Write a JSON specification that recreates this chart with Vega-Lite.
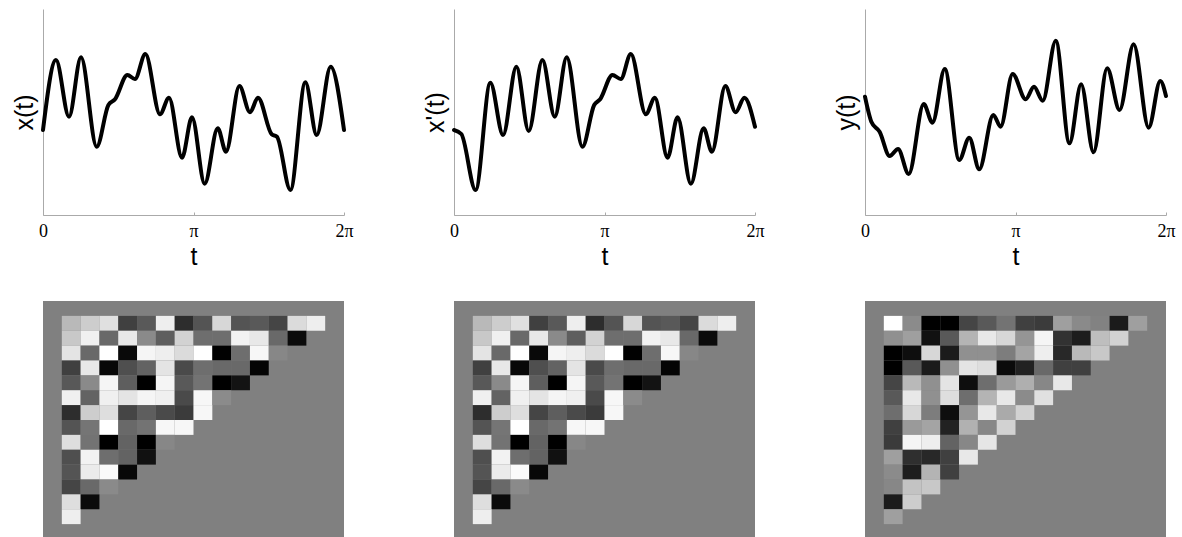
{
  "$schema": "https://vega.github.io/schema/vega-lite/v6.json",
  "padding": {"left": 12, "top": 9, "right": 0, "bottom": 0},
  "background": "white",
  "bounds": "flush",
  "columns": 3,
  "spacing": {"row": 86, "column": 110},
  "config": {
    "view": {"stroke": null},
    "axis": {"grid": false, "domainColor": "#aaaaaa", "domainWidth": 1, "tickColor": "#aaaaaa", "titleFont": "Liberation Sans", "titleFontWeight": "normal", "titleColor": "black", "labelColor": "black"}
  },
  "datasets": {
    "x": [
      {"t": 0, "v": 85}, {"t": 0.271, "v": 155}, {"t": 0.543, "v": 98.3}, {"t": 0.793, "v": 157.7}, {"t": 1.121, "v": 68.3},
      {"t": 1.365, "v": 110}, {"t": 1.503, "v": 115.7}, {"t": 1.762, "v": 140}, {"t": 1.92, "v": 136}, {"t": 2.137, "v": 161},
      {"t": 2.442, "v": 100.7}, {"t": 2.63, "v": 117.3}, {"t": 2.902, "v": 57.3}, {"t": 3.11, "v": 97.7}, {"t": 3.375, "v": 31.3},
      {"t": 3.647, "v": 86.7}, {"t": 3.82, "v": 63.3}, {"t": 4.1, "v": 129}, {"t": 4.321, "v": 102.7}, {"t": 4.488, "v": 117.3},
      {"t": 4.774, "v": 80.7}, {"t": 4.884, "v": 78.3}, {"t": 5.164, "v": 25}, {"t": 5.477, "v": 132.7}, {"t": 5.713, "v": 80},
      {"t": 6.005, "v": 148.3}, {"t": 6.2832, "v": 85}
    ],
    "xp": [
      {"t": 0, "v": 85}, {"t": 0.153, "v": 81}, {"t": 0.451, "v": 25}, {"t": 0.759, "v": 132.3}, {"t": 1.024, "v": 80},
      {"t": 1.302, "v": 148.3}, {"t": 1.559, "v": 84}, {"t": 1.845, "v": 155}, {"t": 2.103, "v": 98.3}, {"t": 2.353, "v": 157.7},
      {"t": 2.681, "v": 68.3}, {"t": 2.926, "v": 110}, {"t": 3.051, "v": 115.7}, {"t": 3.308, "v": 140}, {"t": 3.482, "v": 136},
      {"t": 3.691, "v": 161}, {"t": 4.004, "v": 100.7}, {"t": 4.193, "v": 117.3}, {"t": 4.458, "v": 57.3}, {"t": 4.667, "v": 97.7},
      {"t": 4.945, "v": 31.3}, {"t": 5.21, "v": 86.7}, {"t": 5.384, "v": 63.3}, {"t": 5.664, "v": 129}, {"t": 5.879, "v": 102.7},
      {"t": 6.061, "v": 117.3}, {"t": 6.2832, "v": 88.3}
    ],
    "y": [
      {"t": 0, "v": 118.3}, {"t": 0.132, "v": 93.3}, {"t": 0.305, "v": 83.3}, {"t": 0.515, "v": 59}, {"t": 0.69, "v": 66},
      {"t": 0.912, "v": 41}, {"t": 1.226, "v": 111}, {"t": 1.408, "v": 92.3}, {"t": 1.665, "v": 146}, {"t": 1.967, "v": 55},
      {"t": 2.176, "v": 77.3}, {"t": 2.385, "v": 45.7}, {"t": 2.678, "v": 100}, {"t": 2.831, "v": 88.3}, {"t": 3.082, "v": 141},
      {"t": 3.354, "v": 115.7}, {"t": 3.528, "v": 128.3}, {"t": 3.71, "v": 114.3}, {"t": 3.982, "v": 174.3}, {"t": 4.268, "v": 71.7},
      {"t": 4.511, "v": 130.7}, {"t": 4.77, "v": 62.7}, {"t": 5.055, "v": 146.7}, {"t": 5.314, "v": 105}, {"t": 5.607, "v": 170.7},
      {"t": 5.921, "v": 87.3}, {"t": 6.164, "v": 134}, {"t": 6.2832, "v": 119}
    ],
    "Sx": [
      {"r":1,"c":1,"v":0.45},{"r":1,"c":2,"v":0.61},{"r":1,"c":3,"v":0.76},{"r":1,"c":4,"v":-0.5},{"r":1,"c":5,"v":-0.3},{"r":1,"c":6,"v":0.87},{"r":1,"c":7,"v":-0.65},{"r":1,"c":8,"v":-0.34},{"r":1,"c":9,"v":0.69},{"r":1,"c":10,"v":-0.34},{"r":1,"c":11,"v":-0.3},{"r":1,"c":12,"v":-0.46},{"r":1,"c":13,"v":0.72},{"r":1,"c":14,"v":0.87},
      {"r":2,"c":1,"v":0.57},{"r":2,"c":2,"v":0.88},{"r":2,"c":3,"v":-0.18},{"r":2,"c":4,"v":0.82},{"r":2,"c":5,"v":0.08},{"r":2,"c":6,"v":-0.26},{"r":2,"c":7,"v":0.65},{"r":2,"c":8,"v":-0.14},{"r":2,"c":9,"v":-0.14},{"r":2,"c":10,"v":0.9},{"r":2,"c":11,"v":0.82},{"r":2,"c":12,"v":-0.18},{"r":2,"c":13,"v":-0.91},
      {"r":3,"c":1,"v":0.79},{"r":3,"c":2,"v":-0.18},{"r":3,"c":3,"v":1.0},{"r":3,"c":4,"v":-0.93},{"r":3,"c":5,"v":0.92},{"r":3,"c":6,"v":0.87},{"r":3,"c":7,"v":0.72},{"r":3,"c":8,"v":1.0},{"r":3,"c":9,"v":-0.99},{"r":3,"c":10,"v":-0.14},{"r":3,"c":11,"v":0.94},{"r":3,"c":12,"v":0.06},
      {"r":4,"c":1,"v":-0.5},{"r":4,"c":2,"v":0.82},{"r":4,"c":3,"v":-0.94},{"r":4,"c":4,"v":-0.38},{"r":4,"c":5,"v":-0.22},{"r":4,"c":6,"v":0.79},{"r":4,"c":7,"v":-0.42},{"r":4,"c":8,"v":-0.14},{"r":4,"c":9,"v":-0.18},{"r":4,"c":10,"v":-0.18},{"r":4,"c":11,"v":-0.97},
      {"r":5,"c":1,"v":-0.31},{"r":5,"c":2,"v":0.08},{"r":5,"c":3,"v":0.92},{"r":5,"c":4,"v":-0.26},{"r":5,"c":5,"v":-1.0},{"r":5,"c":6,"v":0.92},{"r":5,"c":7,"v":-0.3},{"r":5,"c":8,"v":-0.1},{"r":5,"c":9,"v":-1.0},{"r":5,"c":10,"v":-0.85},
      {"r":6,"c":1,"v":0.88},{"r":6,"c":2,"v":-0.22},{"r":6,"c":3,"v":0.88},{"r":6,"c":4,"v":0.79},{"r":6,"c":5,"v":0.92},{"r":6,"c":6,"v":0.88},{"r":6,"c":7,"v":-0.42},{"r":6,"c":8,"v":0.94},{"r":6,"c":9,"v":0.09},
      {"r":7,"c":1,"v":-0.65},{"r":7,"c":2,"v":0.61},{"r":7,"c":3,"v":0.74},{"r":7,"c":4,"v":-0.46},{"r":7,"c":5,"v":-0.26},{"r":7,"c":6,"v":-0.42},{"r":7,"c":7,"v":-0.54},{"r":7,"c":8,"v":0.94},
      {"r":8,"c":1,"v":-0.34},{"r":8,"c":2,"v":-0.08},{"r":8,"c":3,"v":1.0},{"r":8,"c":4,"v":-0.18},{"r":8,"c":5,"v":-0.1},{"r":8,"c":6,"v":0.94},{"r":8,"c":7,"v":0.94},
      {"r":9,"c":1,"v":0.74},{"r":9,"c":2,"v":-0.1},{"r":9,"c":3,"v":-1.0},{"r":9,"c":4,"v":-0.22},{"r":9,"c":5,"v":-1.0},{"r":9,"c":6,"v":0.06},
      {"r":10,"c":1,"v":-0.38},{"r":10,"c":2,"v":0.9},{"r":10,"c":3,"v":-0.14},{"r":10,"c":4,"v":-0.22},{"r":10,"c":5,"v":-0.87},
      {"r":11,"c":1,"v":-0.34},{"r":11,"c":2,"v":0.84},{"r":11,"c":3,"v":0.96},{"r":11,"c":4,"v":-0.94},
      {"r":12,"c":1,"v":-0.46},{"r":12,"c":2,"v":-0.18},{"r":12,"c":3,"v":0.08},
      {"r":13,"c":1,"v":0.74},{"r":13,"c":2,"v":-0.91},
      {"r":14,"c":1,"v":0.87}
    ],
    "Sy": [
      {"r":1,"c":1,"v":1.0},{"r":1,"c":2,"v":0.09},{"r":1,"c":3,"v":-1.0},{"r":1,"c":4,"v":-1.0},{"r":1,"c":5,"v":-0.46},{"r":1,"c":6,"v":-0.3},{"r":1,"c":7,"v":-0.1},{"r":1,"c":8,"v":-0.5},{"r":1,"c":9,"v":-0.54},{"r":1,"c":10,"v":0.25},{"r":1,"c":11,"v":0.08},{"r":1,"c":12,"v":0.02},{"r":1,"c":13,"v":-0.79},{"r":1,"c":14,"v":0.25},
      {"r":2,"c":1,"v":0.13},{"r":2,"c":2,"v":0.25},{"r":2,"c":3,"v":-0.87},{"r":2,"c":4,"v":-0.3},{"r":2,"c":5,"v":0.41},{"r":2,"c":6,"v":0.82},{"r":2,"c":7,"v":0.69},{"r":2,"c":8,"v":0.17},{"r":2,"c":9,"v":0.92},{"r":2,"c":10,"v":-0.61},{"r":2,"c":11,"v":-0.77},{"r":2,"c":12,"v":0.49},{"r":2,"c":13,"v":0.65},
      {"r":3,"c":1,"v":-1.0},{"r":3,"c":2,"v":-0.89},{"r":3,"c":3,"v":0.69},{"r":3,"c":4,"v":-0.79},{"r":3,"c":5,"v":0.13},{"r":3,"c":6,"v":0.13},{"r":3,"c":7,"v":-0.02},{"r":3,"c":8,"v":0.29},{"r":3,"c":9,"v":0.87},{"r":3,"c":10,"v":-0.69},{"r":3,"c":11,"v":0.45},{"r":3,"c":12,"v":0.57},
      {"r":4,"c":1,"v":-1.0},{"r":4,"c":2,"v":-0.3},{"r":4,"c":3,"v":-0.79},{"r":4,"c":4,"v":0.13},{"r":4,"c":5,"v":0.79},{"r":4,"c":6,"v":0.74},{"r":4,"c":7,"v":-0.91},{"r":4,"c":8,"v":-0.73},{"r":4,"c":9,"v":-0.18},{"r":4,"c":10,"v":-0.5},{"r":4,"c":11,"v":-0.5},
      {"r":5,"c":1,"v":-0.46},{"r":5,"c":2,"v":0.45},{"r":5,"c":3,"v":0.13},{"r":5,"c":4,"v":0.79},{"r":5,"c":5,"v":-0.89},{"r":5,"c":6,"v":-0.14},{"r":5,"c":7,"v":0.21},{"r":5,"c":8,"v":0.37},{"r":5,"c":9,"v":0.06},{"r":5,"c":10,"v":0.82},
      {"r":6,"c":1,"v":-0.3},{"r":6,"c":2,"v":0.82},{"r":6,"c":3,"v":0.13},{"r":6,"c":4,"v":0.74},{"r":6,"c":5,"v":-0.14},{"r":6,"c":6,"v":0.41},{"r":6,"c":7,"v":0.82},{"r":6,"c":8,"v":0.09},{"r":6,"c":9,"v":0.76},
      {"r":7,"c":1,"v":-0.14},{"r":7,"c":2,"v":0.69},{"r":7,"c":3,"v":-0.02},{"r":7,"c":4,"v":-0.89},{"r":7,"c":5,"v":0.17},{"r":7,"c":6,"v":0.82},{"r":7,"c":7,"v":0.33},{"r":7,"c":8,"v":0.65},
      {"r":8,"c":1,"v":-0.5},{"r":8,"c":2,"v":0.21},{"r":8,"c":3,"v":0.29},{"r":8,"c":4,"v":-0.73},{"r":8,"c":5,"v":0.39},{"r":8,"c":6,"v":0.06},{"r":8,"c":7,"v":0.65},
      {"r":9,"c":1,"v":-0.54},{"r":9,"c":2,"v":0.92},{"r":9,"c":3,"v":0.87},{"r":9,"c":4,"v":-0.22},{"r":9,"c":5,"v":0.06},{"r":9,"c":6,"v":0.8},
      {"r":10,"c":1,"v":0.25},{"r":10,"c":2,"v":-0.63},{"r":10,"c":3,"v":-0.69},{"r":10,"c":4,"v":-0.5},{"r":10,"c":5,"v":0.82},
      {"r":11,"c":1,"v":0.09},{"r":11,"c":2,"v":-0.77},{"r":11,"c":3,"v":0.41},{"r":11,"c":4,"v":-0.5},
      {"r":12,"c":1,"v":0.06},{"r":12,"c":2,"v":0.53},{"r":12,"c":3,"v":0.57},
      {"r":13,"c":1,"v":-0.79},{"r":13,"c":2,"v":0.61},
      {"r":14,"c":1,"v":0.25}
    ]
  },
  "concat": [
    {
      "width": 301, "height": 206,
      "data": {"name": "x"},
      "mark": {"type": "line", "interpolate": "monotone", "color": "black", "strokeWidth": 4, "strokeCap": "round"},
      "encoding": {
        "x": {"field": "t", "type": "quantitative", "scale": {"domain": [0, 6.2832], "nice": false, "zero": false},
              "axis": {"values": [0, 3.1416, 6.2832], "labelExpr": "datum.value < 1 ? '0' : (datum.value < 4 ? 'π' : '2π')", "labelFont": "Liberation Serif", "labelFontSize": 18, "labelFlush": false, "labelOverlap": false, "tickSize": -3, "labelPadding": 10, "title": "t", "titleFontSize": 25, "titlePadding": 4}},
        "y": {"field": "v", "type": "quantitative", "scale": {"domain": [0, 206], "nice": false, "zero": false},
              "axis": {"labels": false, "ticks": false, "title": "x(t)", "titleFontSize": 25, "titlePadding": 6}}
      }
    },
    {
      "width": 301, "height": 206,
      "data": {"name": "xp"},
      "mark": {"type": "line", "interpolate": "monotone", "color": "black", "strokeWidth": 4, "strokeCap": "round"},
      "encoding": {
        "x": {"field": "t", "type": "quantitative", "scale": {"domain": [0, 6.2832], "nice": false, "zero": false},
              "axis": {"values": [0, 3.1416, 6.2832], "labelExpr": "datum.value < 1 ? '0' : (datum.value < 4 ? 'π' : '2π')", "labelFont": "Liberation Serif", "labelFontSize": 18, "labelFlush": false, "labelOverlap": false, "tickSize": -3, "labelPadding": 10, "title": "t", "titleFontSize": 25, "titlePadding": 4}},
        "y": {"field": "v", "type": "quantitative", "scale": {"domain": [0, 206], "nice": false, "zero": false},
              "axis": {"labels": false, "ticks": false, "title": "x'(t)", "titleFontSize": 25, "titlePadding": 6}}
      }
    },
    {
      "width": 301, "height": 206,
      "data": {"name": "y"},
      "mark": {"type": "line", "interpolate": "monotone", "color": "black", "strokeWidth": 4, "strokeCap": "round"},
      "encoding": {
        "x": {"field": "t", "type": "quantitative", "scale": {"domain": [0, 6.2832], "nice": false, "zero": false},
              "axis": {"values": [0, 3.1416, 6.2832], "labelExpr": "datum.value < 1 ? '0' : (datum.value < 4 ? 'π' : '2π')", "labelFont": "Liberation Serif", "labelFontSize": 18, "labelFlush": false, "labelOverlap": false, "tickSize": -3, "labelPadding": 10, "title": "t", "titleFontSize": 25, "titlePadding": 4}},
        "y": {"field": "v", "type": "quantitative", "scale": {"domain": [0, 206], "nice": false, "zero": false},
              "axis": {"labels": false, "ticks": false, "title": "y(t)", "titleFontSize": 25, "titlePadding": 6}}
      }
    },
    {
      "width": 301, "height": 238,
      "data": {"name": "Sx"},
      "view": {"fill": "#808080", "stroke": null},
      "mark": {"type": "rect"},
      "encoding": {
        "x": {"field": "c", "type": "ordinal", "scale": {"domain": [0,1,2,3,4,5,6,7,8,9,10,11,12,13,14,15], "paddingInner": 0, "paddingOuter": 0}, "axis": null},
        "y": {"field": "r", "type": "ordinal", "scale": {"domain": [0,1,2,3,4,5,6,7,8,9,10,11,12,13,14,15], "paddingInner": 0, "paddingOuter": 0}, "axis": null},
        "color": {"field": "v", "type": "quantitative", "scale": {"domain": [-1, 1], "range": ["#000000", "#ffffff"], "interpolate": "rgb"}, "legend": null}
      }
    },
    {
      "width": 301, "height": 238,
      "data": {"name": "Sx"},
      "view": {"fill": "#808080", "stroke": null},
      "mark": {"type": "rect"},
      "encoding": {
        "x": {"field": "c", "type": "ordinal", "scale": {"domain": [0,1,2,3,4,5,6,7,8,9,10,11,12,13,14,15], "paddingInner": 0, "paddingOuter": 0}, "axis": null},
        "y": {"field": "r", "type": "ordinal", "scale": {"domain": [0,1,2,3,4,5,6,7,8,9,10,11,12,13,14,15], "paddingInner": 0, "paddingOuter": 0}, "axis": null},
        "color": {"field": "v", "type": "quantitative", "scale": {"domain": [-1, 1], "range": ["#000000", "#ffffff"], "interpolate": "rgb"}, "legend": null}
      }
    },
    {
      "width": 301, "height": 238,
      "data": {"name": "Sy"},
      "view": {"fill": "#808080", "stroke": null},
      "mark": {"type": "rect"},
      "encoding": {
        "x": {"field": "c", "type": "ordinal", "scale": {"domain": [0,1,2,3,4,5,6,7,8,9,10,11,12,13,14,15], "paddingInner": 0, "paddingOuter": 0}, "axis": null},
        "y": {"field": "r", "type": "ordinal", "scale": {"domain": [0,1,2,3,4,5,6,7,8,9,10,11,12,13,14,15], "paddingInner": 0, "paddingOuter": 0}, "axis": null},
        "color": {"field": "v", "type": "quantitative", "scale": {"domain": [-1, 1], "range": ["#000000", "#ffffff"], "interpolate": "rgb"}, "legend": null}
      }
    }
  ]
}
